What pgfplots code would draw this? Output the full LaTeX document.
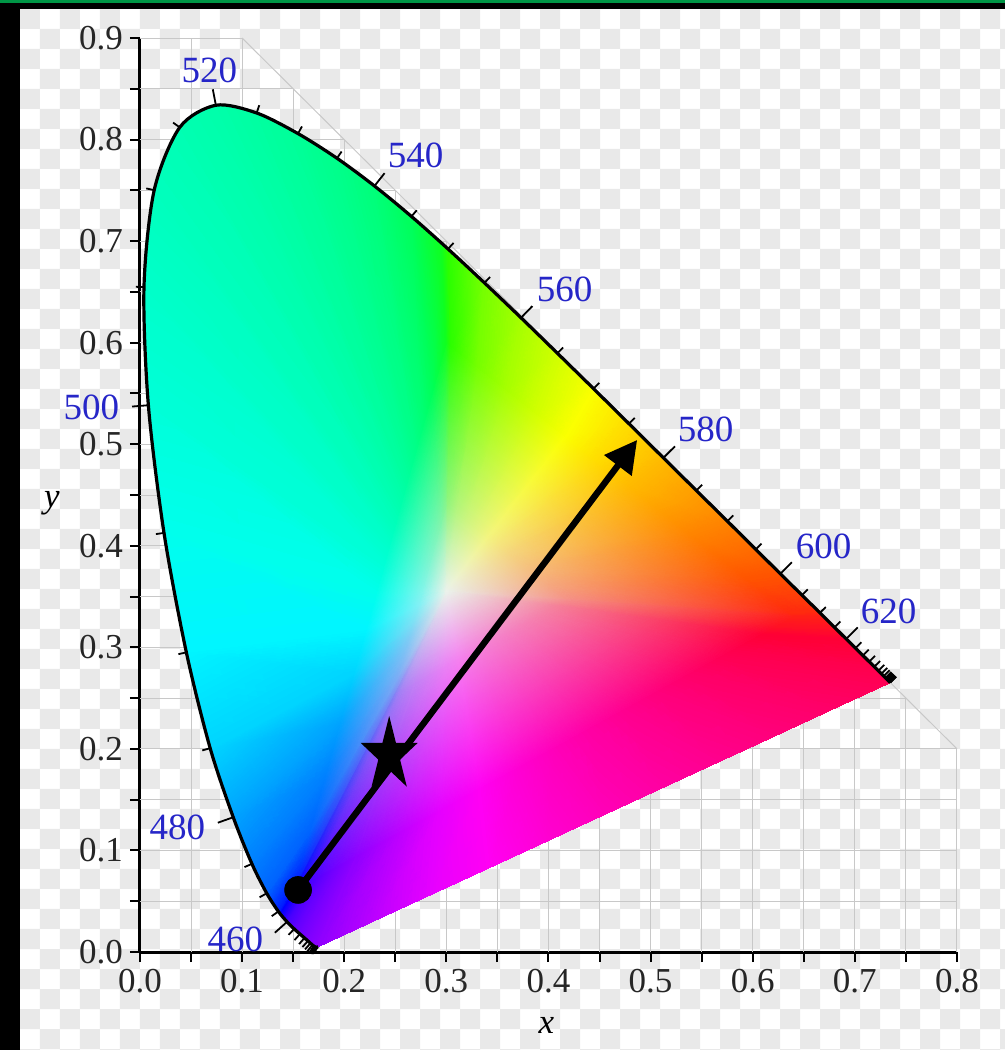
\documentclass[border=0pt]{standalone}
\usepackage{fontspec}
\setmainfont{Liberation Serif}
\usepackage{pgfplots}
\pgfplotsset{compat=1.18}
\usepackage{pgfplotstable}
\usetikzlibrary{arrows.meta}
\definecolor{wl}{RGB}{38,38,200}
\definecolor{chk}{RGB}{233,233,233}
\definecolor{gridc}{RGB}{200,200,200}
\definecolor{topgreen}{RGB}{0,150,70}
\definecolor{underfill}{rgb}{0,1,0.72}

\pgfdeclareplotmark{fstar}{%
 \pgfpathmoveto{\pgfqpoint{0pt}{19.6pt}}%
 \pgfpathlineto{\pgfqpoint{-3.37pt}{6.06pt}}%
 \pgfpathlineto{\pgfqpoint{-14.27pt}{6.06pt}}%
 \pgfpathlineto{\pgfqpoint{-5.45pt}{-2.31pt}}%
 \pgfpathlineto{\pgfqpoint{-8.82pt}{-15.86pt}}%
 \pgfpathlineto{\pgfqpoint{0pt}{-7.49pt}}%
 \pgfpathlineto{\pgfqpoint{8.82pt}{-15.86pt}}%
 \pgfpathlineto{\pgfqpoint{5.45pt}{-2.31pt}}%
 \pgfpathlineto{\pgfqpoint{14.27pt}{6.06pt}}%
 \pgfpathlineto{\pgfqpoint{3.37pt}{6.06pt}}%
 \pgfpathclose\pgfusepathqfill}

% spectral locus (CIE 1931 2 deg), with outward tick vectors u,v
\pgfplotstableread{
wl x y u v
380 0.1741 0.0050 -0.0046 -0.0065
385 0.1740 0.0050 -0.0046 -0.0065
390 0.1738 0.0049 -0.0046 -0.0065
395 0.1736 0.0049 -0.0046 -0.0065
400 0.1733 0.0048 -0.0046 -0.0065
405 0.1730 0.0048 -0.0046 -0.0065
410 0.1726 0.0048 -0.0046 -0.0065
415 0.1721 0.0048 -0.0046 -0.0065
420 0.1714 0.0051 -0.0046 -0.0065
425 0.1703 0.0058 -0.0047 -0.0065
430 0.1689 0.0069 -0.0051 -0.0062
435 0.1669 0.0086 -0.0053 -0.0060
440 0.1644 0.0109 -0.0053 -0.0060
445 0.1611 0.0138 -0.0053 -0.0060
450 0.1566 0.0177 -0.0053 -0.0060
455 0.1510 0.0227 -0.0055 -0.0058
460 0.1440 0.0297 -0.0119 -0.0107
465 0.1355 0.0399 -0.0065 -0.0046
470 0.1241 0.0578 -0.0070 -0.0039
475 0.1096 0.0868 -0.0073 -0.0032
480 0.0913 0.1327 -0.0151 -0.0054
485 0.0687 0.2007 -0.0077 -0.0022
490 0.0454 0.2950 -0.0078 -0.0017
495 0.0235 0.4127 -0.0079 -0.0012
500 0.0082 0.5384 -0.0160 -0.0013
505 0.0039 0.6548 -0.0080 0.0002
510 0.0139 0.7502 -0.0078 0.0017
515 0.0389 0.8120 -0.0065 0.0047
520 0.0743 0.8338 -0.0030 0.0157
525 0.1142 0.8262 0.0026 0.0076
530 0.1547 0.8059 0.0039 0.0070
535 0.1929 0.7816 0.0045 0.0066
540 0.2296 0.7543 0.0099 0.0126
545 0.2658 0.7243 0.0052 0.0061
550 0.3016 0.6923 0.0054 0.0059
555 0.3373 0.6589 0.0055 0.0058
560 0.3731 0.6245 0.0111 0.0115
565 0.4087 0.5896 0.0056 0.0057
570 0.4441 0.5547 0.0056 0.0057
575 0.4788 0.5202 0.0056 0.0057
580 0.5125 0.4866 0.0113 0.0113
585 0.5448 0.4544 0.0057 0.0057
590 0.5752 0.4242 0.0057 0.0057
595 0.6029 0.3965 0.0057 0.0057
600 0.6270 0.3725 0.0113 0.0113
605 0.6482 0.3514 0.0057 0.0057
610 0.6658 0.3340 0.0057 0.0057
615 0.6801 0.3197 0.0057 0.0057
620 0.6915 0.3083 0.0113 0.0113
625 0.7006 0.2993 0.0057 0.0057
630 0.7079 0.2920 0.0057 0.0057
635 0.7140 0.2859 0.0057 0.0057
640 0.7190 0.2809 0.0057 0.0057
645 0.7230 0.2770 0.0057 0.0057
650 0.7260 0.2740 0.0057 0.0057
655 0.7283 0.2717 0.0057 0.0057
660 0.7300 0.2700 0.0057 0.0057
665 0.7311 0.2689 0.0057 0.0057
670 0.7320 0.2680 0.0057 0.0057
675 0.7327 0.2673 0.0057 0.0057
680 0.7334 0.2666 0.0057 0.0057
685 0.7340 0.2660 0.0057 0.0057
690 0.7344 0.2656 0.0057 0.0057
695 0.7346 0.2654 0.0057 0.0057
700 0.7347 0.2653 0.0057 0.0057
}\locus

\begin{document}
\begin{tikzpicture}
\useasboundingbox (-70pt,-49pt) rectangle (432.5pt,476pt);
\fill[white] (-70pt,-49pt) rectangle (432.5pt,476pt);
% transparency checkerboard
\fill[chk] \foreach \j in {0,2,...,52} { \foreach \i in {0,2,...,50} { ({-60pt+\i*10pt},{471.5pt-\j*10pt}) rectangle ++(10pt,-10pt) } };
\fill[chk] \foreach \j in {1,3,...,53} { \foreach \i in {1,3,...,51} { ({-60pt+\i*10pt},{471.5pt-\j*10pt}) rectangle ++(10pt,-10pt) } };
\fill[black] (-70pt,-49pt) rectangle (-60pt,476pt);
\fill[black] (-70pt,471.5pt) rectangle (432.5pt,476pt);
\fill[topgreen] (-70pt,474.5pt) rectangle (432.5pt,476pt);

\begin{axis}[
  scale only axis, width=408.5pt, height=457pt,
  xmin=0, xmax=0.8, ymin=0, ymax=0.9,
  clip=false,
  axis lines*=left,
  axis line style={line width=1.5pt},
  tick align=outside,
  major tick length=5pt, minor tick length=5pt,
  every tick/.style={black, line width=1pt},
  xtick={0,0.1,0.2,0.3,0.4,0.5,0.6,0.7,0.8},
  xticklabels={0.0,0.1,0.2,0.3,0.4,0.5,0.6,0.7,0.8},
  minor xtick={0.05,0.15,0.25,0.35,0.45,0.55,0.65,0.75},
  ytick={0,0.1,0.2,0.3,0.4,0.5,0.6,0.7,0.8,0.9},
  yticklabels={0.0,0.1,0.2,0.3,0.4,0.5,0.6,0.7,0.8,0.9},
  minor ytick={0.05,0.15,0.25,0.35,0.45,0.55,0.65,0.75,0.85},
  ticklabel style={font=\fontsize{17.5}{21}\selectfont, text=black!85},
  /pgf/number format/assume math mode=true,
  xlabel={\textit{x}}, ylabel={\textit{y}},
  every axis x label/.style={at={(axis description cs:0.4975,0)}, anchor=center, yshift=-36.5pt, font=\fontsize{17.5}{21}\selectfont},
  every axis y label/.style={at={(axis description cs:0,0.491)}, anchor=center, xshift=-44pt, font=\fontsize{17.5}{21}\selectfont},
]
% faint grid inside x+y<=1
\begin{scope}
\clip (axis cs:0,0) -- (axis cs:0,0.9) -- (axis cs:0.1,0.9) -- (axis cs:0.8,0.2) -- (axis cs:0.8,0) -- cycle;
\pgfplotsinvokeforeach{0.05,0.1,0.15,0.2,0.25,0.3,0.35,0.4,0.45,0.5,0.55,0.6,0.65,0.7,0.75,0.8}{\draw[gridc, line width=0.5pt] (axis cs:#1,0) -- (axis cs:#1,0.9);}
\pgfplotsinvokeforeach{0.05,0.1,0.15,0.2,0.25,0.3,0.35,0.4,0.45,0.5,0.55,0.6,0.65,0.7,0.75,0.8,0.85,0.9}{\draw[gridc, line width=0.5pt] (axis cs:0,#1) -- (axis cs:0.8,#1);}
\end{scope}
\draw[gridc, line width=0.5pt] (axis cs:0.1,0.9) -- (axis cs:0.8,0.2);

% underlay following the smooth locus
\addplot[fill=underfill, draw=none, smooth] table[x=x, y=y] {\locus} -- cycle;

% colour fill: white centre, inner ring, sRGB gamut ring, spectral locus + purple line
\addplot[patch, shader=interp, mesh/color input=explicit, table/row sep=\\,
 patch table={
0 1 2\\0 2 3\\0 3 4\\0 4 5\\0 5 6\\0 6 7\\0 7 8\\0 8 9\\0 9 10\\0 10 11\\0 11 12\\0 12 13\\0 13 14\\0 14 15\\0 15 16\\0 16 17\\0 17 18\\0 18 19\\0 19 20\\0 20 21\\0 21 22\\0 22 23\\0 23 24\\0 24 25\\0 25 26\\0 26 27\\0 27 28\\0 28 29\\0 29 30\\0 30 31\\0 31 32\\0 32 33\\0 33 34\\0 34 35\\0 35 36\\0 36 37\\0 37 38\\0 38 39\\0 39 40\\0 40 41\\0 41 42\\0 42 43\\0 43 44\\0 44 45\\0 45 46\\0 46 47\\0 47 48\\0 48 49\\0 49 1\\
1 50 51\\1 51 2\\2 51 52\\2 52 3\\3 52 53\\3 53 4\\4 53 54\\4 54 5\\5 54 55\\5 55 6\\
6 55 56\\6 56 7\\7 56 57\\7 57 8\\8 57 58\\8 58 9\\9 58 59\\9 59 10\\10 59 60\\10 60 11\\
11 60 61\\11 61 12\\12 61 62\\12 62 13\\13 62 63\\13 63 14\\14 63 64\\14 64 15\\15 64 65\\15 65 16\\
16 65 66\\16 66 17\\17 66 67\\17 67 18\\18 67 68\\18 68 19\\19 68 69\\19 69 20\\20 69 70\\20 70 21\\
21 70 71\\21 71 22\\22 71 72\\22 72 23\\23 72 73\\23 73 24\\24 73 74\\24 74 25\\25 74 75\\25 75 26\\
26 75 76\\26 76 27\\27 76 77\\27 77 28\\28 77 78\\28 78 29\\29 78 79\\29 79 30\\30 79 80\\30 80 31\\
31 80 81\\31 81 32\\32 81 82\\32 82 33\\33 82 83\\33 83 34\\34 83 84\\34 84 35\\35 84 85\\35 85 36\\
36 85 86\\36 86 37\\37 86 87\\37 87 38\\38 87 88\\38 88 39\\39 88 89\\39 89 40\\40 89 90\\40 90 41\\
41 90 91\\41 91 42\\42 91 92\\42 92 43\\43 92 93\\43 93 44\\44 93 94\\44 94 45\\45 94 95\\45 95 46\\
46 95 96\\46 96 47\\47 96 97\\47 97 48\\48 97 98\\48 98 49\\49 98 50\\49 50 1\\
50 99 100\\50 100 51\\51 100 101\\51 101 52\\52 101 102\\52 102 53\\53 102 103\\53 103 54\\54 103 104\\54 104 55\\
55 104 105\\55 105 56\\56 105 106\\56 106 57\\57 106 107\\57 107 58\\58 107 108\\58 108 59\\59 108 109\\59 109 60\\
60 109 110\\60 110 61\\61 110 111\\61 111 62\\62 111 112\\62 112 63\\63 112 113\\63 113 64\\64 113 114\\64 114 65\\
65 114 115\\65 115 66\\66 115 116\\66 116 67\\67 116 117\\67 117 68\\68 117 118\\68 118 69\\69 118 119\\69 119 70\\
70 119 120\\70 120 71\\71 120 121\\71 121 72\\72 121 122\\72 122 73\\73 122 123\\73 123 74\\74 123 124\\74 124 75\\
75 124 125\\75 125 76\\76 125 126\\76 126 77\\77 126 127\\77 127 78\\78 127 128\\78 128 79\\79 128 129\\79 129 80\\
80 129 130\\80 130 81\\81 130 131\\81 131 82\\82 131 132\\82 132 83\\83 132 133\\83 133 84\\84 133 134\\84 134 85\\
85 134 135\\85 135 86\\86 135 136\\86 136 87\\87 136 137\\87 137 88\\88 137 138\\88 138 89\\89 138 139\\89 139 90\\
90 139 140\\90 140 91\\91 140 141\\91 141 92\\92 141 142\\92 142 93\\93 142 143\\93 143 94\\94 143 144\\94 144 95\\
95 144 145\\95 145 96\\96 145 146\\96 146 97\\97 146 147\\97 147 98\\98 147 99\\98 99 50\\
}] table[meta=c, row sep=\\] {
x y c\\
0.3000 0.3550 rgb=0.92,0.95,0.92\\
0.2690 0.2637 rgb=0.755,0.5,0.96\\
0.2683 0.2633 rgb=0.752,0.5,0.96\\
0.2650 0.2615 rgb=0.729,0.5,0.96\\
0.2609 0.2592 rgb=0.70,0.5,0.96\\
0.2577 0.2574 rgb=0.674,0.5,0.96\\
0.2531 0.2549 rgb=0.627,0.5,0.96\\
0.2475 0.2518 rgb=0.5,0.5,0.96\\
0.2481 0.2541 rgb=0.5,0.552,0.96\\
0.2531 0.2722 rgb=0.5,0.678,0.96\\
0.2584 0.2911 rgb=0.5,0.74,0.96\\
0.2636 0.3097 rgb=0.5,0.80,0.96\\
0.2683 0.3270 rgb=0.5,0.885,0.96\\
0.2725 0.3419 rgb=0.5,0.943,0.96\\
0.2759 0.3542 rgb=0.5,0.96,0.926\\
0.2785 0.3637 rgb=0.5,0.96,0.889\\
0.2806 0.3711 rgb=0.5,0.96,0.863\\
0.2823 0.3771 rgb=0.5,0.96,0.839\\
0.2837 0.3824 rgb=0.5,0.96,0.82\\
0.2850 0.3870 rgb=0.5,0.96,0.805\\
0.2862 0.3915 rgb=0.5,0.96,0.788\\
0.2876 0.3965 rgb=0.5,0.96,0.77\\
0.2894 0.4027 rgb=0.5,0.96,0.747\\
0.2917 0.4110 rgb=0.5,0.96,0.715\\
0.2952 0.4236 rgb=0.5,0.96,0.66\\
0.3000 0.4408 rgb=0.528,0.96,0.555\\
0.3015 0.4395 rgb=0.578,0.96,0.5\\
0.3108 0.4322 rgb=0.715,0.96,0.5\\
0.3205 0.4245 rgb=0.801,0.96,0.5\\
0.3304 0.4166 rgb=0.876,0.96,0.5\\
0.3408 0.4084 rgb=0.953,0.96,0.5\\
0.3513 0.4000 rgb=0.96,0.897,0.5\\
0.3621 0.3915 rgb=0.96,0.836,0.5\\
0.3833 0.3746 rgb=0.96,0.737,0.5\\
0.4024 0.3595 rgb=0.96,0.651,0.5\\
0.4174 0.3476 rgb=0.96,0.574,0.528\\
0.4190 0.3463 rgb=0.96,0.555,0.541\\
0.4134 0.3432 rgb=0.96,0.532,0.564\\
0.4081 0.3403 rgb=0.96,0.5,0.597\\
0.3982 0.3349 rgb=0.96,0.5,0.638\\
0.3939 0.3324 rgb=0.96,0.5,0.654\\
0.3833 0.3266 rgb=0.96,0.5,0.69\\
0.3723 0.3206 rgb=0.96,0.5,0.723\\
0.3610 0.3144 rgb=0.96,0.5,0.758\\
0.3493 0.3079 rgb=0.96,0.5,0.794\\
0.3371 0.3012 rgb=0.96,0.5,0.834\\
0.3245 0.2943 rgb=0.96,0.5,0.88\\
0.3115 0.2871 rgb=0.96,0.5,0.939\\
0.2979 0.2796 rgb=0.914,0.5,0.96\\
0.2839 0.2719 rgb=0.839,0.5,0.96\\
0.2116 0.0940 rgb=0.555,0,1\\
0.2097 0.0929 rgb=0.547,0,1\\
0.2002 0.0876 rgb=0.498,0,1\\
0.1884 0.0811 rgb=0.435,0,1\\
0.1792 0.0761 rgb=0.378,0,1\\
0.1661 0.0688 rgb=0.275,0,1\\
0.1500 0.0600 rgb=0,0,1\\
0.1518 0.0665 rgb=0,0.113,1\\
0.1662 0.1184 rgb=0,0.388,1\\
0.1812 0.1722 rgb=0,0.50,1\\
0.1960 0.2255 rgb=0,0.64,1\\
0.2097 0.2748 rgb=0,0.836,1\\
0.2215 0.3174 rgb=0,0.963,1\\
0.2313 0.3526 rgb=0,1,0.925\\
0.2388 0.3798 rgb=0,1,0.845\\
0.2447 0.4008 rgb=0,1,0.790\\
0.2495 0.4181 rgb=0,1,0.737\\
0.2536 0.4332 rgb=0,1,0.695\\
0.2573 0.4463 rgb=0,1,0.662\\
0.2608 0.4590 rgb=0,1,0.625\\
0.2648 0.4735 rgb=0,1,0.587\\
0.2698 0.4912 rgb=0,1,0.537\\
0.2764 0.5149 rgb=0,1,0.468\\
0.2864 0.5509 rgb=0,1,0.348\\
0.3000 0.6000 rgb=0.06,1,0.12\\
0.3045 0.5964 rgb=0.170,1,0\\
0.3311 0.5753 rgb=0.468,1,0\\
0.3586 0.5535 rgb=0.654,1,0\\
0.3871 0.5309 rgb=0.818,1,0\\
0.4166 0.5074 rgb=0.984,1,0\\
0.4468 0.4834 rgb=1,0.862,0\\
0.4775 0.4590 rgb=1,0.730,0\\
0.5382 0.4108 rgb=1,0.516,0\\
0.5926 0.3677 rgb=1,0.328,0\\
0.6355 0.3336 rgb=1,0.16,0.06\\
0.6400 0.3300 rgb=1,0.12,0.09\\
0.6240 0.3211 rgb=1,0.07,0.14\\
0.6089 0.3128 rgb=1,0,0.210\\
0.5807 0.2973 rgb=1,0,0.300\\
0.5683 0.2904 rgb=1,0,0.335\\
0.5380 0.2738 rgb=1,0,0.412\\
0.5067 0.2565 rgb=1,0,0.485\\
0.4744 0.2387 rgb=1,0,0.560\\
0.4409 0.2202 rgb=1,0,0.640\\
0.4062 0.2011 rgb=1,0,0.726\\
0.3702 0.1813 rgb=1,0,0.826\\
0.3329 0.1608 rgb=1,0,0.955\\
0.2942 0.1395 rgb=0.900,0,1\\
0.2541 0.1174 rgb=0.737,0,1\\
0.1741 0.0050 rgb=0.555,0,1\\
0.1714 0.0051 rgb=0.547,0,1\\
0.1644 0.0109 rgb=0.498,0,1\\
0.1566 0.0177 rgb=0.435,0,1\\
0.1510 0.0227 rgb=0.378,0,1\\
0.1440 0.0297 rgb=0.275,0,1\\
0.1369 0.0383 rgb=0,0,1\\
0.1355 0.0399 rgb=0,0.113,1\\
0.1241 0.0578 rgb=0,0.388,1\\
0.1096 0.0868 rgb=0,0.50,1\\
0.0913 0.1327 rgb=0,0.64,1\\
0.0687 0.2007 rgb=0,0.836,1\\
0.0454 0.2950 rgb=0,0.963,1\\
0.0235 0.4127 rgb=0,1,0.925\\
0.0082 0.5384 rgb=0,1,0.845\\
0.0039 0.6548 rgb=0,1,0.790\\
0.0139 0.7502 rgb=0,1,0.737\\
0.0389 0.8120 rgb=0,1,0.695\\
0.0743 0.8338 rgb=0,1,0.662\\
0.1142 0.8262 rgb=0,1,0.625\\
0.1547 0.8059 rgb=0,1,0.587\\
0.1929 0.7816 rgb=0,1,0.537\\
0.2296 0.7543 rgb=0,1,0.468\\
0.2658 0.7243 rgb=0,1,0.348\\
0.2954 0.6978 rgb=0.06,1,0.12\\
0.3016 0.6923 rgb=0.170,1,0\\
0.3373 0.6589 rgb=0.468,1,0\\
0.3731 0.6245 rgb=0.654,1,0\\
0.4087 0.5896 rgb=0.818,1,0\\
0.4441 0.5547 rgb=0.984,1,0\\
0.4788 0.5202 rgb=1,0.862,0\\
0.5125 0.4866 rgb=1,0.730,0\\
0.5752 0.4242 rgb=1,0.516,0\\
0.6270 0.3725 rgb=1,0.328,0\\
0.6658 0.3340 rgb=1,0.16,0.06\\
0.6697 0.3301 rgb=1,0.12,0.09\\
0.6801 0.3197 rgb=1,0.07,0.14\\
0.6915 0.3083 rgb=1,0,0.210\\
0.7190 0.2809 rgb=1,0,0.300\\
0.7347 0.2653 rgb=1,0,0.335\\
0.6786 0.2393 rgb=1,0,0.412\\
0.6226 0.2132 rgb=1,0,0.485\\
0.5665 0.1872 rgb=1,0,0.560\\
0.5105 0.1612 rgb=1,0,0.640\\
0.4544 0.1352 rgb=1,0,0.726\\
0.3983 0.1091 rgb=1,0,0.826\\
0.3423 0.0831 rgb=1,0,0.955\\
0.2862 0.0571 rgb=0.900,0,1\\
0.2302 0.0311 rgb=0.737,0,1\\
};

% spectral locus outline and wavelength ticks
\addplot[black, line width=1.6pt, line join=round, smooth] table[x=x, y=y] {\locus};
\addplot[black, line width=0.9pt, quiver={u=\thisrow{u}, v=\thisrow{v}}] table[x=x, y=y] {\locus};

% wavelength labels
\begin{scope}[every node/.style={text=wl, font=\fontsize{18.5}{22}\selectfont, inner sep=0pt}]
\node at (axis cs:0.0680,0.8685) {520};
\node at (axis cs:0.2698,0.7848) {540};
\node at (axis cs:0.4158,0.6529) {560};
\node at (axis cs:0.5539,0.5150) {580};
\node at (axis cs:0.6694,0.3993) {600};
\node at (axis cs:0.7331,0.3358) {620};
\node at (axis cs:-0.0475,0.5362) {500};
\node at (axis cs:0.0367,0.1226) {480};
\node at (axis cs:0.0935,0.0123) {460};
\end{scope}

% arrow, start point and star
\addplot[black, line width=3.2pt, -{Triangle[length=16pt,width=16.5pt]}] coordinates {(0.1548,0.0611) (0.4868,0.5042)};
\addplot[only marks, mark=*, mark size=6.7pt, black] coordinates {(0.1548,0.0611)};
\addplot[only marks, mark=fstar, black] coordinates {(0.2440,0.1940)};
\end{axis}
\end{tikzpicture}
\end{document}
